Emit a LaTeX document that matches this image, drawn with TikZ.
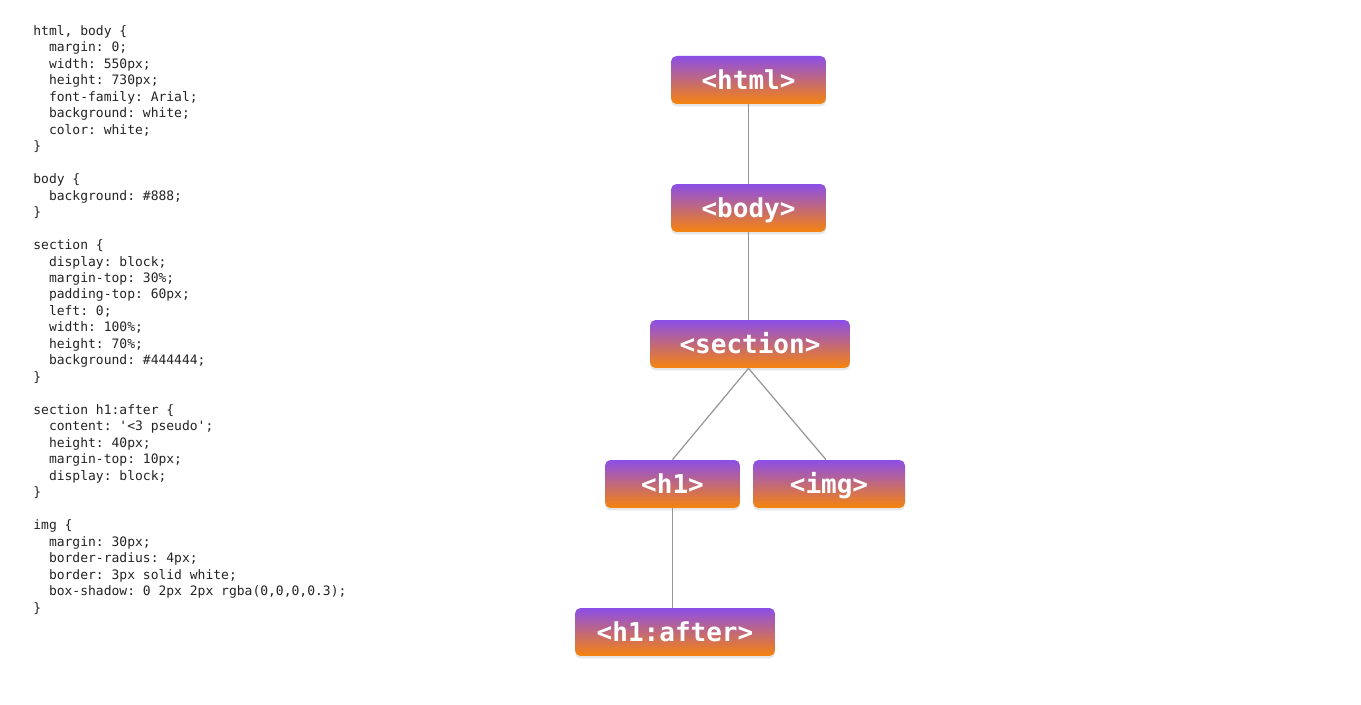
\documentclass[tikz,border=0pt]{standalone}
\usepackage{fontspec}
\setmonofont{DejaVu Sans Mono}
\usetikzlibrary{shadows}

\definecolor{tagtop}{RGB}{140,78,232}
\definecolor{tagbot}{RGB}{246,132,12}
\definecolor{codegray}{RGB}{35,35,35}
\definecolor{linkgray}{RGB}{150,150,150}

\tikzset{
  tag/.style={rounded corners=0.11cm, top color=tagtop, bottom color=tagbot,
    minimum height=0.96cm, text=white, inner sep=0pt,
    text height=1.1em, text depth=0em,
    font=\ttfamily\bfseries\fontsize{14.8}{16}\selectfont,
    drop shadow={opacity=0.2, shadow xshift=0pt, shadow yshift=-0.05cm}},
  link/.style={draw=linkgray, line width=0.7pt},
  code/.style={anchor=north west, inner sep=0pt, align=left, text=codegray,
    font=\ttfamily\fontsize{7.4}{9.38}\selectfont}
}
\newcommand{\ind}{\hphantom{xx}}

\begin{document}
\begin{tikzpicture}[x=0.02cm,y=-0.02cm]
\useasboundingbox (0,0) rectangle (1361,705);

% css source
\node[code] (css) at (33,25) {%
html, body \{\\
\ind margin: 0;\\
\ind width: 550px;\\
\ind height: 730px;\\
\ind font-family: Arial;\\
\ind background: white;\\
\ind color: white;\\
\}\\
\mbox{}\\
body \{\\
\ind background: \#888;\\
\}\\
\mbox{}\\
section \{\\
\ind display: block;\\
\ind margin-top: 30\%;\\
\ind padding-top: 60px;\\
\ind left: 0;\\
\ind width: 100\%;\\
\ind height: 70\%;\\
\ind background: \#444444;\\
\}\\
\mbox{}\\
section h1:after \{\\
\ind content: '<3 pseudo';\\
\ind height: 40px;\\
\ind margin-top: 10px;\\
\ind display: block;\\
\}\\
\mbox{}\\
img \{\\
\ind margin: 30px;\\
\ind border-radius: 4px;\\
\ind border: 3px solid white;\\
\ind box-shadow: 0 2px 2px rgba(0,0,0,0.3);\\
\}};

% dom tree
\node[tag, minimum width=3.1cm] (html) at (748.5,80) {<html>};
\node[tag, minimum width=3.1cm] (body) at (748.5,208) {<body>};
\node[tag, minimum width=4cm] (section) at (750,344) {<section>};
\node[tag, minimum width=2.7cm] (h1) at (672.5,484) {<h1>};
\node[tag, minimum width=3.04cm] (img) at (829,484) {<img>};
\node[tag, minimum width=4cm] (after) at (675,632) {<h1:after>};

\draw[link] (html) -- (body);
\draw[link] (body) -- (body |- section.north);
\draw[link] (body |- section.south) -- (h1.north);
\draw[link] (body |- section.south) -- ([xshift=-0.06cm]img.north);
\draw[link] (h1) -- (h1 |- after.north);
\end{tikzpicture}
\end{document}
